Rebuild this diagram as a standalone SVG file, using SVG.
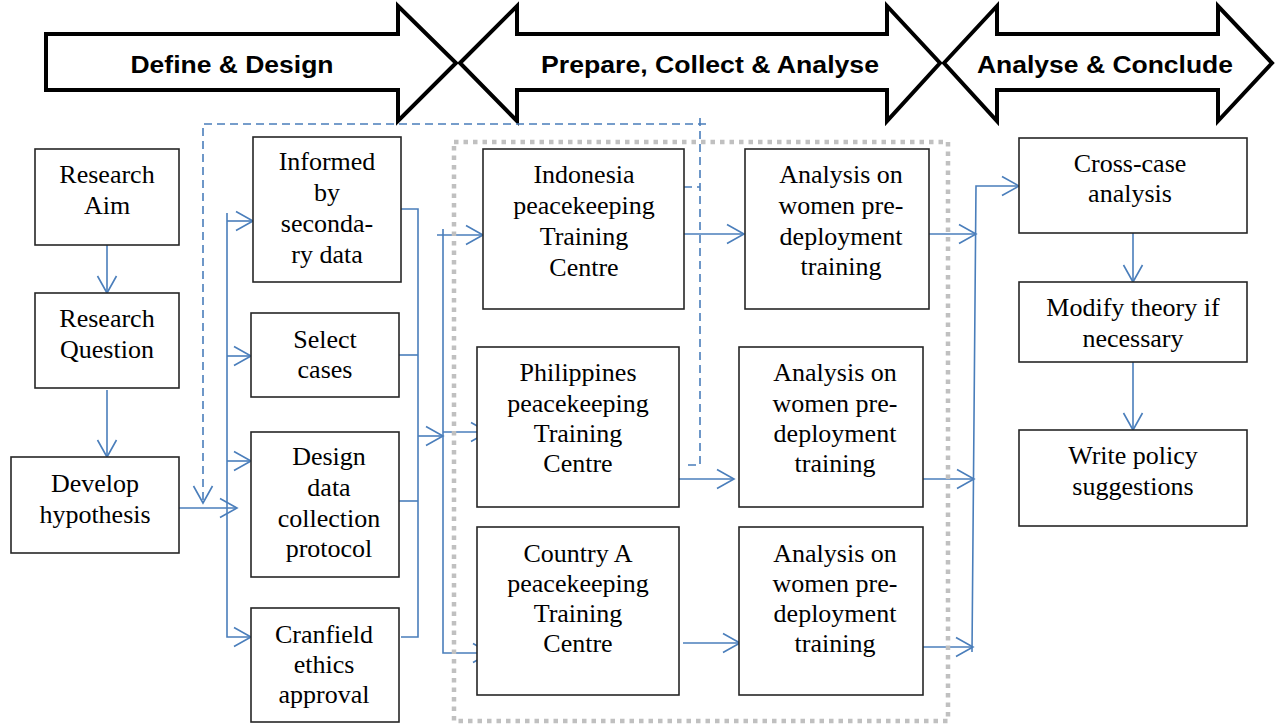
<svg xmlns="http://www.w3.org/2000/svg" width="1276" height="724" viewBox="0 0 1276 724">
<style>
.big{fill:#fff;stroke:#000;stroke-width:4;stroke-linejoin:miter}
.bl{font-family:'Liberation Sans',Arial,sans-serif;font-weight:bold;font-size:23px;fill:#000;text-anchor:middle}
.box{fill:#fff;stroke:#262626;stroke-width:1.6}
.t{font-family:'Liberation Serif','Times New Roman',Times,serif;font-size:26px;fill:#000;text-anchor:middle}
.c{fill:none;stroke:#4a7ebb;stroke-width:1.6}
.d{fill:none;stroke:#4a7ebb;stroke-width:1.6;stroke-dasharray:8 5}
.dot{fill:none;stroke:#c0c0c0;stroke-width:4.5;stroke-dasharray:4.5 5}
</style>
<defs>
<marker id="ah" markerUnits="userSpaceOnUse" viewBox="-19 -11 21 22" refX="0" refY="0" markerWidth="21" markerHeight="22" orient="auto">
<path d="M-17,-9.5 L0,0 L-17,9.5" fill="none" stroke="#4a7ebb" stroke-width="1.6"/>
</marker>
</defs>
<rect width="1276" height="724" fill="#fff"/>

<g id="phase1">
<path class="big" d="M46,34 L398,34 L398,6 L456,63 L398,121 L398,90 L46,90 Z"/>
<text class="bl" x="232" y="73" textLength="203" lengthAdjust="spacingAndGlyphs">Define &amp; Design</text>
</g>
<g id="phase2">
<path class="big" d="M460,63 L517,6 L517,34 L887,34 L887,6 L940,63 L887,121 L887,90 L517,90 L517,121 Z"/>
<text class="bl" x="710" y="73" textLength="338" lengthAdjust="spacingAndGlyphs">Prepare, Collect &amp; Analyse</text>
</g>
<g id="phase3">
<path class="big" d="M944,63 L997,6 L997,34 L1218,34 L1218,6 L1272,63 L1218,121 L1218,90 L997,90 L997,121 Z"/>
<text class="bl" x="1105" y="73" textLength="256" lengthAdjust="spacingAndGlyphs">Analyse &amp; Conclude</text>
</g>

<g id="connectors">
<path class="c" d="M107,245 V293" marker-end="url(#ah)"/>
<path class="c" d="M107,390 V457" marker-end="url(#ah)"/>
<path class="c" d="M179,508 H237" marker-end="url(#ah)"/>
<path class="c" d="M227,213 V637 H251" marker-end="url(#ah)"/>
<path class="c" d="M227,221 H253" marker-end="url(#ah)"/>
<path class="c" d="M227,356 H251" marker-end="url(#ah)"/>
<path class="c" d="M227,461 H251" marker-end="url(#ah)"/>
<path class="c" d="M401,209 H418 V637 H401"/>
<path class="c" d="M399,355 H418"/>
<path class="c" d="M399,501 H418"/>
<path class="c" d="M418,436 H443" marker-end="url(#ah)"/>
<path class="c" d="M443,229 V653 H490" marker-end="url(#ah)"/>
<path class="c" d="M437,235 H483" marker-end="url(#ah)"/>
<path class="c" d="M443,432 H488" marker-end="url(#ah)"/>
<path class="c" d="M684,234 H744" marker-end="url(#ah)"/>
<path class="c" d="M679,479 H734" marker-end="url(#ah)"/>
<path class="c" d="M683,643 H740" marker-end="url(#ah)"/>
<path class="c" d="M929,234 H976" marker-end="url(#ah)"/>
<path class="c" d="M923,479 H974" marker-end="url(#ah)"/>
<path class="c" d="M923,647 H973" marker-end="url(#ah)"/>
<path class="c" d="M972,652 L976,186 H1019" marker-end="url(#ah)"/>
<path class="c" d="M1133,233 V282" marker-end="url(#ah)"/>
<path class="c" d="M1133,362 V430" marker-end="url(#ah)"/>
<path class="d" d="M684,187 H700"/>
<path class="d" d="M700,118 V465 H683"/>
<path class="d" d="M706,124 H203 V503" marker-end="url(#ah)"/>
</g>

<rect id="case-study-group" class="dot" x="454" y="142" width="494" height="579"/>

<g id="research-aim">
<rect class="box" x="35" y="149" width="144" height="96"/>
<text class="t" x="107" y="183">Research</text>
<text class="t" x="107" y="214">Aim</text>
</g>
<g id="research-question">
<rect class="box" x="35" y="293" width="144" height="95"/>
<text class="t" x="107" y="327">Research</text>
<text class="t" x="107" y="358">Question</text>
</g>
<g id="develop-hypothesis">
<rect class="box" x="11" y="457" width="168" height="96"/>
<text class="t" x="95" y="492">Develop</text>
<text class="t" x="95" y="523">hypothesis</text>
</g>

<g id="informed">
<rect class="box" x="253" y="137" width="148" height="145"/>
<text class="t" x="327" y="170">Informed</text>
<text class="t" x="327" y="201">by</text>
<text class="t" x="327" y="232">seconda-</text>
<text class="t" x="327" y="263">ry data</text>
</g>
<g id="select-cases">
<rect class="box" x="251" y="313" width="148" height="84"/>
<text class="t" x="325" y="348">Select</text>
<text class="t" x="325" y="378">cases</text>
</g>
<g id="design-protocol">
<rect class="box" x="251" y="432" width="148" height="145"/>
<text class="t" x="329" y="465">Design</text>
<text class="t" x="329" y="496">data</text>
<text class="t" x="329" y="527">collection</text>
<text class="t" x="329" y="557">protocol</text>
</g>
<g id="ethics">
<rect class="box" x="251" y="608" width="148" height="114"/>
<text class="t" x="324" y="643">Cranfield</text>
<text class="t" x="324" y="673">ethics</text>
<text class="t" x="324" y="703">approval</text>
</g>

<g id="indonesia">
<rect class="box" x="483" y="149" width="201" height="160"/>
<text class="t" x="584" y="183">Indonesia</text>
<text class="t" x="584" y="214">peacekeeping</text>
<text class="t" x="584" y="245">Training</text>
<text class="t" x="584" y="276">Centre</text>
</g>
<g id="analysis-indonesia">
<rect class="box" x="745" y="149" width="184" height="160"/>
<text class="t" x="841" y="183">Analysis on</text>
<text class="t" x="841" y="214">women pre-</text>
<text class="t" x="841" y="245">deployment</text>
<text class="t" x="841" y="275">training</text>
</g>
<g id="philippines">
<rect class="box" x="477" y="347" width="202" height="160"/>
<text class="t" x="578" y="381">Philippines</text>
<text class="t" x="578" y="412">peacekeeping</text>
<text class="t" x="578" y="442">Training</text>
<text class="t" x="578" y="472">Centre</text>
</g>
<g id="analysis-philippines">
<rect class="box" x="739" y="347" width="184" height="160"/>
<text class="t" x="835" y="381">Analysis on</text>
<text class="t" x="835" y="412">women pre-</text>
<text class="t" x="835" y="442">deployment</text>
<text class="t" x="835" y="472">training</text>
</g>
<g id="country-a">
<rect class="box" x="477" y="527" width="202" height="168"/>
<text class="t" x="578" y="562">Country A</text>
<text class="t" x="578" y="592">peacekeeping</text>
<text class="t" x="578" y="622">Training</text>
<text class="t" x="578" y="652">Centre</text>
</g>
<g id="analysis-country-a">
<rect class="box" x="739" y="527" width="184" height="168"/>
<text class="t" x="835" y="562">Analysis on</text>
<text class="t" x="835" y="592">women pre-</text>
<text class="t" x="835" y="622">deployment</text>
<text class="t" x="835" y="652">training</text>
</g>

<g id="cross-case">
<rect class="box" x="1019" y="138" width="228" height="95"/>
<text class="t" x="1130" y="172">Cross-case</text>
<text class="t" x="1130" y="202">analysis</text>
</g>
<g id="modify-theory">
<rect class="box" x="1019" y="282" width="228" height="80"/>
<text class="t" x="1133" y="316">Modify theory if</text>
<text class="t" x="1133" y="347">necessary</text>
</g>
<g id="write-policy">
<rect class="box" x="1019" y="430" width="228" height="96"/>
<text class="t" x="1133" y="464">Write policy</text>
<text class="t" x="1133" y="495">suggestions</text>
</g>
</svg>
